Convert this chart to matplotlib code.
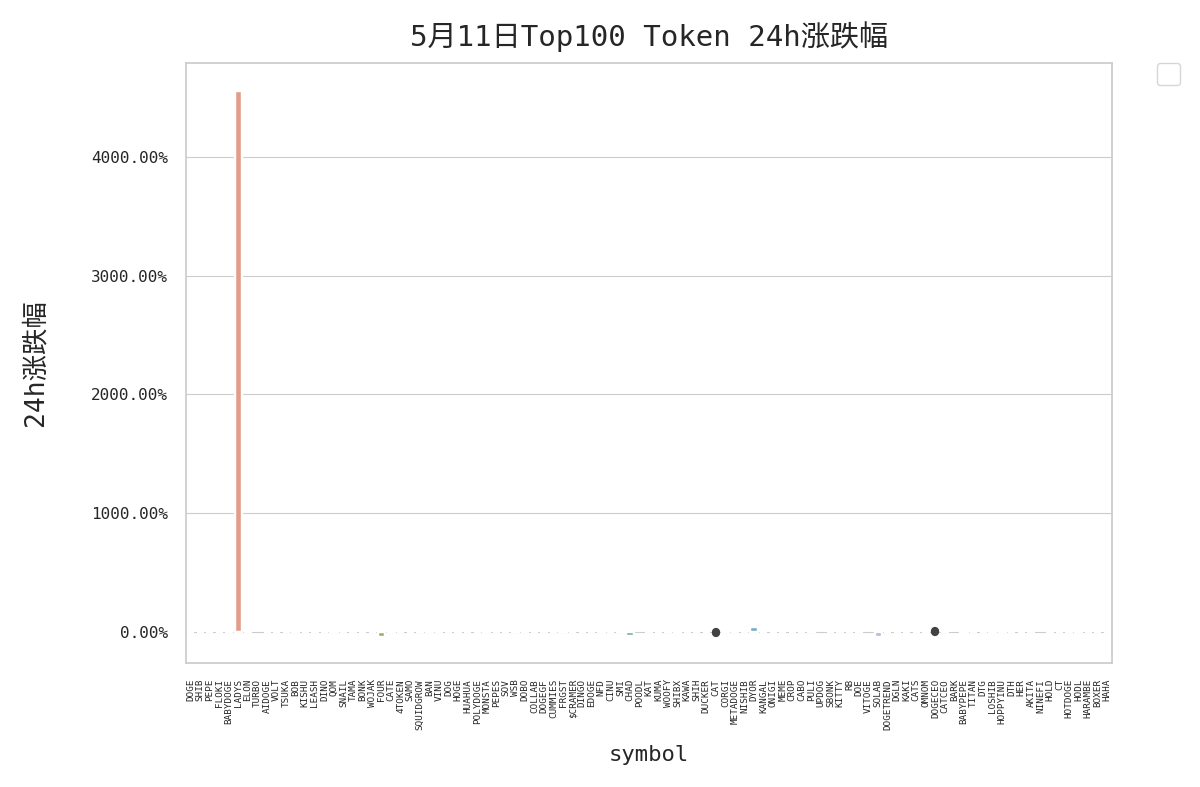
import numpy as np
import matplotlib
matplotlib.use("Agg")
import matplotlib.pyplot as plt
import seaborn as sns

# 数据: 代币符号 / 24h 涨跌幅 (%)
symbols = ["DOGE", "SHIB", "PEPE", "FLOKI", "BABYDOGE", "LADYS", "ELON", "TURBO", "AIDOGE", "VOLT",
           "TSUKA", "BOB", "KISHU", "LEASH", "DINO", "QOM", "SNAIL", "TAMA", "BONK", "WOJAK",
           "FOUR", "CATE", "4TOKEN", "SAMO", "SQUIDGROW", "BAN", "VINU", "DOG", "HOGE", "HUAHUA",
           "POLYDOGE", "MONSTA", "PEPES", "SOV", "WSB", "DOBO", "COLLAB", "DOGEGF", "CUMMIES", "FRGST",
           "$CRAMER", "DINGO", "EDOGE", "NFD", "CINU", "SMI", "CHAD", "POODL", "KAT", "KUMA",
           "WOOFY", "SHIBX", "KAWA", "SHIH", "DUCKER", "CAT", "CORGI", "METADOGE", "NISHIB", "DYOR",
           "KANGAL", "ONIGI", "MEME", "CROP", "CABO", "PULI", "UPDOG", "SBONK", "KITTY", "RB",
           "DOE", "VITOGE", "SOLAB", "DOGETREND", "DGLN", "KAKI", "CATS", "OMNOM", "DOGECEO", "CATCEO",
           "BARK", "BABYPEPE", "TITAN", "DTG", "LOSHIB", "HOPPYINU", "DTH", "HER", "AKITA", "NINEFI",
           "HOLD", "CT", "HOTDOGE", "HODL", "HARAMBE", "BOXER", "HAHA"]
nan = float("nan")
changes = [1.2, 0.8, 2.5, 1.9, 0.6, 4556, 3.1, nan, 2.2, 1.5,
           -0.7, 4.2, 1.1, 0.9, -2.3, 5.6, -1.8, 2.7, 3.4, -3.9,
           -45, 6.2, 1.4, 2.9, -1.2, 4.8, 0.5, -2.6, 1.7, 3.3,
           -0.9, 7.1, -4.4, 2.0, 5.2, -1.6, 0.3, 3.8, -2.1, 6.5,
           1.3, -3.2, 2.4, 8.9, -1.1, 4.1, -32, nan, 3.6, -0.4,
           1.8, -5.3, 2.6, 0.7, -2.8, 0.0, 4.5, -1.9, 3.0, 46,
           1.6, -3.5, 2.2, 0.9, -1.4, 5.9, nan, 1.0, -2.4, 3.7,
           0.2, nan, -45, 2.8, -1.7, 4.0, 1.2, -0.6, 0.0, 3.1,
           nan, -12, 2.3, 1.9, -4.7, 6.8, 0.4, -2.0, 3.9, nan,
           1.5, -0.8, 2.6, 5.1, -1.3, 0.6, 3.2]

# 重复出现的代币 (误差范围)
err_symbols = ["CAT", "DOGECEO"]
err_low = [-5, -4]
err_high = [4, 5]

sns.set_style("whitegrid")
plt.rcParams["font.family"] = ["DejaVu Sans Mono", "Noto Sans CJK SC"]
plt.rcParams["axes.unicode_minus"] = False

fig = plt.figure(figsize=(12, 7.87), dpi=100)
ax = fig.add_axes([0.155, 0.1576, 0.7717, 0.7624])

# husl 调色板, 再和白色混合一点 (变浅)
pal = np.array(sns.color_palette("husl", len(symbols), desat=0.65))
colors = pal * 0.8 + 0.2
x = np.arange(len(symbols))
ax.bar(x, changes, width=0.76, color=colors, edgecolor="white", linewidth=1.75)

# 误差线
err_x = [symbols.index(s) for s in err_symbols]
ax.vlines(err_x, err_low, err_high, colors="#424242", linewidth=6,
          capstyle="round", zorder=3)

ax.set_xlim(-0.5, len(symbols) - 0.5)
ax.set_ylim(-261, 4792)
ax.set_yticks([0, 1000, 2000, 3000, 4000])
ax.yaxis.set_major_formatter(plt.FuncFormatter(lambda v, p: "{:.2f}%".format(v)))
ax.set_xticks(x)
ax.set_xticklabels(symbols, rotation=90, fontsize=6.7)
ax.tick_params(axis="x", length=0, pad=11.5)
ax.tick_params(axis="y", length=0, pad=13, labelsize=11.5)
ax.grid(axis="x", visible=False)
for sp in ax.spines.values():
    sp.set_color("#cccccc")
    sp.set_linewidth(1.25)

ax.set_title("5月11日Top100 Token 24h涨跌幅", fontsize=21, pad=12)
ax.set_xlabel("symbol", fontsize=16)
ax.set_ylabel("24h涨跌幅", fontsize=19)
ax.xaxis.set_label_coords(0.5, -0.137)
ax.yaxis.set_label_coords(-0.149, 0.5)

ax.legend(handles=[], bbox_to_anchor=(1.049, 1), loc="upper left",
          borderpad=0.8, borderaxespad=0)

fig.savefig("out.png", dpi=100)
